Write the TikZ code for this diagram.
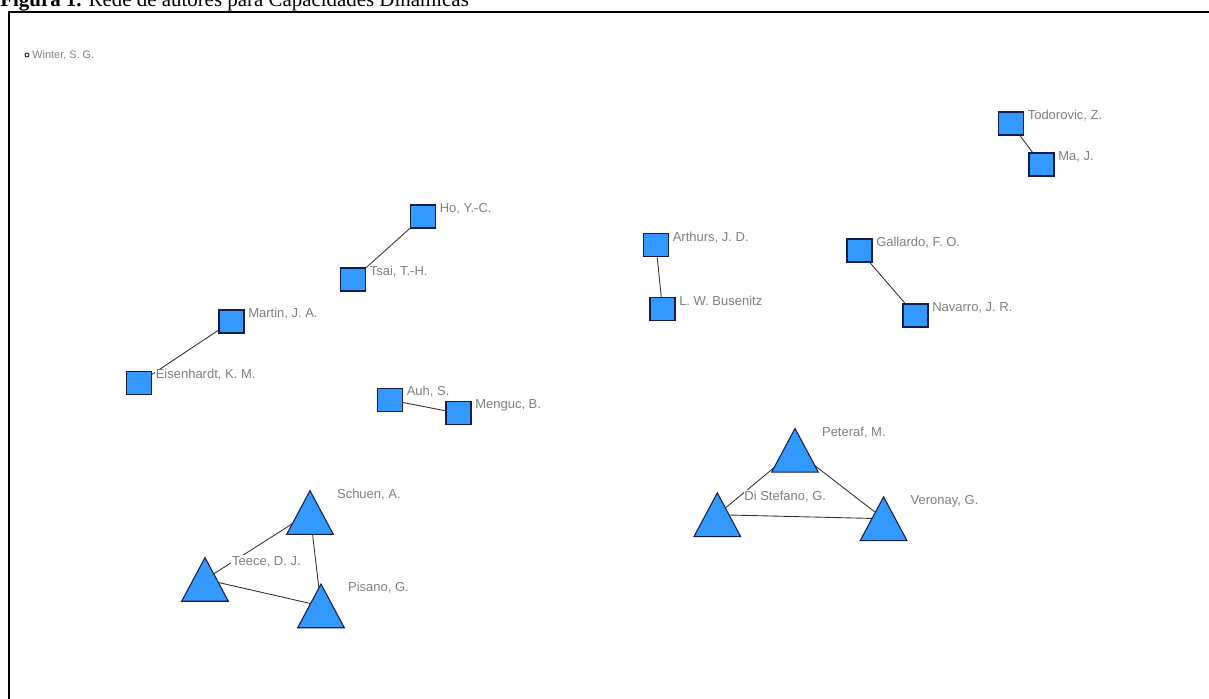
\documentclass[tikz,border=0pt]{standalone}
\usepackage{fontspec}
\setmainfont{Liberation Serif}
\newfontfamily\rotulo{Liberation Sans}
\usetikzlibrary{backgrounds}
\definecolor{azulno}{RGB}{51,153,255}
\definecolor{bordano}{RGB}{20,30,70}
\definecolor{cinzarot}{RGB}{128,128,128}
\tikzset{
  autor/.style={draw=bordano, fill=azulno, line width=0.6pt,
    minimum width=0.5cm, minimum height=0.46cm, inner sep=0pt},
  grupo/.style={minimum width=0.92cm, minimum height=0.86cm, inner sep=0pt},
  tri/.style={draw=bordano, fill=azulno, line width=0.6pt},
  nome/.style={anchor=west, fill=white, inner sep=0.5pt, text=cinzarot,
    font=\rotulo\fontsize{7.4}{8}\selectfont},
  laco/.style={draw=black!80, line width=0.5pt}
}
\begin{document}
\begin{tikzpicture}[x=0.02cm, y=-0.02cm]
  \useasboundingbox (0,0) rectangle (1209,698);
  \node[anchor=base west, inner sep=0pt, font=\fontsize{11.9}{14}\selectfont] (titulo) at (0,6.5)
    {\textbf{Figura 1.} Rede de autores para Capacidades Dinâmicas};
  \draw[line width=1.1pt] (1215,12) -- (9,12) -- (9,705);
  % autor isolado
  \node[circle, draw=bordano, fill=white, line width=0.5pt, inner sep=0pt, minimum size=0.08cm] (winter) at (27,55) {};
  \node[anchor=west, inner sep=0.5pt, text=cinzarot, font=\rotulo\fontsize{6.2}{7}\selectfont] (winter-r) at ([xshift=1]winter.east) {Winter, S. G.};
  % pares
  \node[autor] (martin) at (231.5,321.5) {};
  \node[autor] (eisen) at (139,383) {};
  \node[autor] (tsai) at (353,279.5) {};
  \node[autor] (ho) at (423,216.5) {};
  \node[autor] (auh) at (390,400) {};
  \node[autor] (menguc) at (458.5,413.3) {};
  \node[autor] (arthurs) at (656,245.3) {};
  \node[autor] (busenitz) at (662.5,309.3) {};
  \node[autor] (todorovic) at (1011,123.5) {};
  \node[autor] (ma) at (1041.5,164.5) {};
  \node[autor] (gallardo) at (859.5,250.5) {};
  \node[autor] (navarro) at (915.5,315.5) {};
  % trios
  \node[grupo] (schuen) at (310,512.5) {};
  \node[grupo] (teece) at (205,579.4) {};
  \node[grupo] (pisano) at (321,605.9) {};
  \node[grupo] (peteraf) at (795,450.3) {};
  \node[grupo] (distefano) at (717.3,514.7) {};
  \node[grupo] (veronay) at (883.6,518.7) {};
  \begin{scope}[on background layer]
    \foreach \a/\b in {eisen/martin, tsai/ho, auh/menguc, arthurs/busenitz, todorovic/ma, gallardo/navarro}
      \draw[laco] (\a) -- (\b);
  \end{scope}
  \foreach \a/\b in {teece/schuen, teece/pisano, schuen/pisano, distefano/peteraf, distefano/veronay, peteraf/veronay}
    \draw[laco] (\a.center) -- (\b.center);
  \foreach \t in {schuen, teece, pisano, peteraf, distefano, veronay}
    \filldraw[tri] (\t.south west) -- (\t.north) -- (\t.south east) -- cycle;
  % rotulos
  \foreach \n/\txt in {martin/{Martin, J. A.}, eisen/{Eisenhardt, K. M.}, tsai/{Tsai, T.-H.},
      ho/{Ho, Y.-C.}, auh/{Auh, S.}, menguc/{Menguc, B.}, arthurs/{Arthurs, J. D.},
      busenitz/{L. W. Busenitz}, todorovic/{Todorovic, Z.}, ma/{Ma, J.},
      gallardo/{Gallardo, F. O.}, navarro/{Navarro, J. R.}, schuen/{Schuen, A.},
      teece/{Teece, D. J.}, pisano/{Pisano, G.}, peteraf/{Peteraf, M.},
      distefano/{Di Stefano, G.}, veronay/{Veronay, G.}}
    \node[nome] (\n-r) at ([shift={(2.5,4)}]\n.north east) {\txt};
\end{tikzpicture}
\end{document}
